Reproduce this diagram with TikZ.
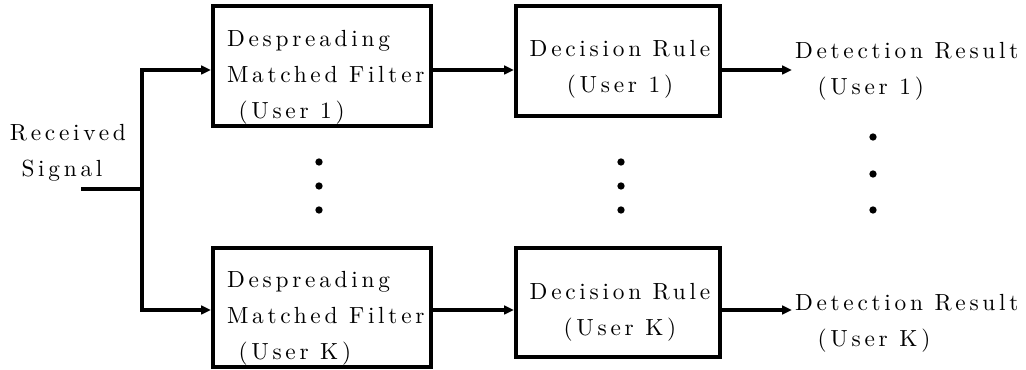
\documentclass[tikz,border=0pt]{standalone}
\usepackage{fontspec}
\newfontfamily\spacedrm{lmroman10-regular}[Extension=.otf, LetterSpace=16]
\usetikzlibrary{arrows.meta}
\begin{document}
\begin{tikzpicture}[x=0.75pt,y=-0.75pt,
  lbl/.style={font=\spacedrm\fontsize{17.5pt}{27pt}\selectfont,
    inner sep=0pt, outer sep=0pt},
  blk/.style={draw, line width=3pt, minimum width=#1, inner sep=0pt},
  wire/.style={line width=3pt},
  flow/.style={wire, -{Triangle[length=7.5pt,width=6.5pt]}},
  dot/.style={circle, fill, inner sep=0pt, minimum size=5.5pt}]
\useasboundingbox (0,0) rectangle (1026,370);

% arrow rows
\coordinate (r1) at (0,70);
\coordinate (rK) at (0,310);

% blocks
\node[blk=163.5pt, minimum height=90pt] (dmf1) at (322,66) {};
\node[blk=163.5pt, minimum height=89.25pt] (dmfK) at (322,307.5) {};
\node[blk=153pt, minimum height=82.5pt] (dr1) at (618,61) {};
\node[blk=153pt, minimum height=81.75pt] (drK) at (618,302.5) {};

% block texts
\node[lbl, anchor=north west, align=left] (t1) at (227,30)
  {Despreading\\Matched Filter\\~(User 1)};
\node[lbl, anchor=north west, align=left] (tK) at (227,271)
  {Despreading\\Matched Filter\\~(User K)};
\node[lbl, anchor=north, align=center] (d1) at (620,40)
  {Decision Rule\\(User 1)};
\node[lbl, anchor=north, align=center] (dK) at (620,283)
  {Decision Rule\\(User K)};

% input and outputs
\node[lbl, anchor=north west, align=left] (rx) at (10,124)
  {Received\\~Signal};
\node[lbl, anchor=north west, align=left] (o1) at (795,42)
  {Detection Result\\\hspace{17pt}(User 1)};
\node[lbl, anchor=north west, align=left] (oK) at (795,294)
  {Detection Result\\\hspace{17pt}(User K)};

\coordinate (in) at (81,189);
\coordinate (split) at (142,189);
\coordinate (e1) at (792,70);
\coordinate (eK) at (792,310);

% connectors
\draw[wire] (in) -- (split);
\draw[flow] (split) |- (dmf1.west |- r1);
\draw[flow] (split) |- (dmfK.west |- rK);
\draw[flow] (dmf1.east |- r1) -- (dr1.west |- r1);
\draw[flow] (dmfK.east |- rK) -- (drK.west |- rK);
\draw[flow] (dr1.east |- r1) -- (e1);
\draw[flow] (drK.east |- rK) -- (eK);

% continuation dots
\foreach \x/\ya/\yb/\yc in {319/162/186/210, 621/162/186/210, 873/137/174/210}{
  \node[dot] at (\x,\ya) {};
  \node[dot] at (\x,\yb) {};
  \node[dot] at (\x,\yc) {};
}
\end{tikzpicture}
\end{document}
